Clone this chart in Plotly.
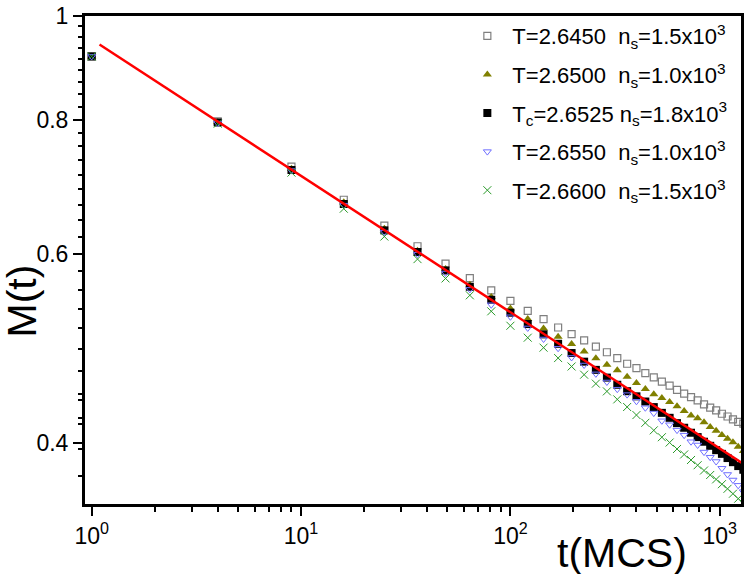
import plotly.graph_objects as go

# ---------------- data ----------------
t_mcs = [1, 4, 9, 16, 25, 36, 49, 64, 81, 100, 121, 144, 169, 196, 225, 256, 289, 324,
         361, 400, 441, 484, 529, 576, 625, 676, 729, 784, 841, 900, 961, 1024, 1089,
         1156, 1225, 1296]

m_T26450 = [0.916, 0.797, 0.7232, 0.6736, 0.6372, 0.6097, 0.5875, 0.5693, 0.5546, 0.5422,
            0.5308, 0.5215, 0.5122, 0.5050, 0.4983, 0.4916, 0.4857, 0.4796, 0.4739, 0.4694,
            0.4645, 0.4603, 0.4560, 0.4522, 0.4480, 0.4445, 0.4412, 0.4381, 0.4344, 0.4313,
            0.4287, 0.4257, 0.4232, 0.4206, 0.4183, 0.4168]
m_T26500 = [0.916, 0.796, 0.7201, 0.6700, 0.6331, 0.6039, 0.5806, 0.5613, 0.5468, 0.5334,
            0.5215, 0.5111, 0.5022, 0.4943, 0.4864, 0.4795, 0.4729, 0.4672, 0.4609, 0.4548,
            0.4488, 0.4439, 0.4403, 0.4366, 0.4325, 0.4283, 0.4242, 0.4216, 0.4179, 0.4138,
            0.4104, 0.4067, 0.4035, 0.4004, 0.3966, 0.3930]
m_Tc26525 = [0.916, 0.795, 0.7180, 0.6675, 0.6308, 0.6022, 0.5788, 0.5589, 0.5436, 0.5287,
             0.5160, 0.5047, 0.4946, 0.4849, 0.4760, 0.4677, 0.4600, 0.4530, 0.4468, 0.4419,
             0.4370, 0.4318, 0.4265, 0.4220, 0.4172, 0.4131, 0.4087, 0.4049, 0.4009, 0.3974,
             0.3937, 0.3906, 0.3871, 0.3837, 0.3805, 0.3775]
m_T26550 = [0.916, 0.794, 0.7171, 0.6658, 0.6284, 0.5994, 0.5757, 0.5558, 0.5378, 0.5241,
            0.5117, 0.4997, 0.4899, 0.4803, 0.4726, 0.4637, 0.4557, 0.4487, 0.4435, 0.4372,
            0.4312, 0.4263, 0.4193, 0.4158, 0.4110, 0.4066, 0.4009, 0.3981, 0.3921, 0.3878,
            0.3842, 0.3787, 0.3737, 0.3693, 0.3651, 0.3602]
m_T26600 = [0.916, 0.793, 0.7140, 0.6608, 0.6225, 0.5931, 0.5690, 0.5488, 0.5303, 0.5141,
            0.5011, 0.4905, 0.4797, 0.4711, 0.4629, 0.4541, 0.4466, 0.4390, 0.4319, 0.4245,
            0.4175, 0.4108, 0.4048, 0.4002, 0.3947, 0.3901, 0.3855, 0.3812, 0.3769, 0.3733,
            0.3698, 0.3660, 0.3624, 0.3586, 0.3548, 0.3511]

# power-law fit line (end points)
fit_t = [1.09, 1300]
fit_m = [0.9397, 0.3821]

series_labels = [
    "T=2.6450\u00a0\u00a0n<sub>s</sub>=1.5x10<sup>3</sup>",
    "T=2.6500\u00a0\u00a0n<sub>s</sub>=1.0x10<sup>3</sup>",
    "T<sub>c</sub>=2.6525 n<sub>s</sub>=1.8x10<sup>3</sup>",
    "T=2.6550\u00a0\u00a0n<sub>s</sub>=1.0x10<sup>3</sup>",
    "T=2.6600\u00a0\u00a0n<sub>s</sub>=1.5x10<sup>3</sup>",
]

x_tickvals = [1, 10, 100, 1000]
x_ticktext = ["10<sup>0</sup>", "10<sup>1</sup>", "10<sup>2</sup>", "10<sup>3</sup>"]
y_tickvals = [0.4, 0.6, 0.8, 1.0]
y_ticktext = ["0.4", "0.6", "0.8", "1"]

# ---------------- styling ----------------
styles = [
    dict(symbol="square-open", size=7, color="#7f7f7f", line=dict(width=1.2, color="#7f7f7f")),
    dict(symbol="triangle-up", size=8, color="#808000", line=dict(width=0)),
    dict(symbol="square", size=8, color="#000000", line=dict(width=0)),
    dict(symbol="triangle-down-open", size=7, color="#6f6fff", line=dict(width=1, color="#6f6fff")),
    dict(symbol="x-thin-open", size=8, color="#2a9a2a", line=dict(width=1, color="#2a9a2a")),
]
series_values = [m_T26450, m_T26500, m_Tc26525, m_T26550, m_T26600]

fig = go.Figure()
for i, (lab, vals, st) in enumerate(zip(series_labels, series_values, styles)):
    fig.add_trace(go.Scatter(
        x=t_mcs, y=vals, mode="markers", name=lab, marker=st,
        legendgroup=f"g{i}",
    ))

fig.add_trace(go.Scatter(x=fit_t, y=fit_m, mode="lines",
                         line=dict(color="#ff0000", width=2.5), showlegend=False))

FONT = "Liberation Sans, Arial, Helvetica, sans-serif"

x_minor = [m * 10 ** e for e in range(0, 4) for m in range(2, 10)]
y_minor = [round(0.35 + i * 0.2 / 9, 4) for i in range(0, 5)] + \
          [round(0.4 + i * 0.2 / 9, 4) for i in range(1, 9)] + \
          [round(0.6 + i * 0.2 / 9, 4) for i in range(1, 9)] + \
          [round(0.8 + i * 0.2 / 9, 4) for i in range(1, 9)]
y_minor = [v for v in y_minor if 0.35 < v < 1.0 and abs(v - 0.4) > 1e-3]

L, R, T, B = 84, 3, 12, 69
fig.update_layout(
    width=747, height=574,
    margin=dict(l=L, r=R, t=T, b=B),
    paper_bgcolor="white", plot_bgcolor="white",
    font=dict(family=FONT, color="black"),
    showlegend=True,
    legend=dict(
        x=0.575, y=1.0, xanchor="left", yanchor="top",
        font=dict(size=22, family=FONT, color="black"),
        bgcolor="rgba(0,0,0,0)", borderwidth=0,
        tracegroupgap=7, itemwidth=40,
    ),
    xaxis=dict(
        type="log", range=[-0.0367, 3.1062],
        showline=True, linecolor="black", linewidth=2, mirror=True,
        ticks="outside", ticklen=9, tickwidth=2, tickcolor="black",
        tickmode="array", tickvals=x_tickvals, ticktext=x_ticktext,
        tickfont=dict(size=23, family=FONT, color="black"),
        ticklabeloverflow="allow",
        showgrid=False, zeroline=False,
        minor=dict(tickmode="array", tickvals=x_minor, ticks="outside",
                   ticklen=5, tickwidth=2, tickcolor="black", showgrid=False),
    ),
    yaxis=dict(
        type="log", range=[-0.4559, 0.0005],
        showline=True, linecolor="black", linewidth=2, mirror=True,
        ticks="outside", ticklen=9, tickwidth=2, tickcolor="black",
        tickmode="array", tickvals=y_tickvals, ticktext=y_ticktext,
        tickfont=dict(size=23, family=FONT, color="black"),
        ticklabeloverflow="allow",
        showgrid=False, zeroline=False,
        minor=dict(tickmode="array", tickvals=y_minor, ticks="outside",
                   ticklen=4, tickwidth=2, tickcolor="black", showgrid=False),
    ),
    shapes=[dict(type="rect", xref="paper", yref="paper", x0=0, x1=1, y0=0, y1=1,
                 line=dict(color="black", width=2), fillcolor="rgba(0,0,0,0)", layer="above")],
    annotations=[
        dict(text="M(t)", textangle=-90, xref="paper", yref="paper",
             x=(22 - L) / 660, y=(505 - 300) / 493, xanchor="center", yanchor="middle",
             showarrow=False, font=dict(size=41, family=FONT, color="black")),
        dict(text="t(MCS)", xref="paper", yref="paper",
             x=(624 - L) / 660, y=(505 - 553) / 493, xanchor="center", yanchor="middle",
             showarrow=False, font=dict(size=41, family=FONT, color="black")),
    ],
)

fig.write_html("out.html", config={"displayModeBar": False},
               post_script="document.body.style.margin='0px';document.body.style.overflow='hidden';")
